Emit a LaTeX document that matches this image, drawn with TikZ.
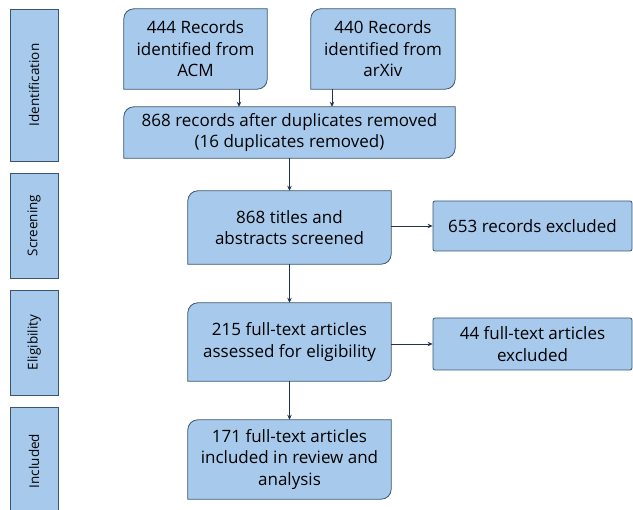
\documentclass[tikz,border=0pt]{standalone}
\usepackage{fontspec}
\setmainfont{Open Sans}
\usepackage{tikz}
\usetikzlibrary{arrows.meta, positioning, backgrounds}

\definecolor{boxblue}{HTML}{A7CAEC}
\definecolor{boxline}{HTML}{3A5573}
\definecolor{arrowcol}{HTML}{1F3350}

\begin{document}
\begin{tikzpicture}[
    x=1pt, y=-1pt,
    stage/.style={rectangle, draw=boxline, fill=boxblue, line width=0.8pt, rotate=90,
        minimum height=48pt, inner sep=0pt, font=\fontsize{13.5}{15}\selectfont},
    flowbox/.style={rectangle, inner sep=2pt, align=center,
        font=\fontsize{17}{21.5}\selectfont},
    sidebox/.style={rectangle, draw=boxline, fill=boxblue, line width=0.8pt,
        rounded corners=2pt, align=center, minimum width=199pt, minimum height=50pt,
        font=\fontsize{17}{21.5}\selectfont},
    arr/.style={draw=arrowcol, line width=0.8pt, -{Stealth[length=5pt, width=4.5pt]}}
]
    \useasboundingbox (0,0) rectangle (633,510);

    % phases on the left
    \node[stage, minimum width=152pt] (ident) at (34,85) {Identification};
    \node[stage, minimum width=105pt] (scr) at (34,225.5) {Screening};
    \node[stage, minimum width=105pt] (eli) at (34,342.5) {Eligibility};
    \node[stage, minimum width=108pt] (inc) at (34,461) {Included};

    % main flow
    \node[flowbox, minimum width=143pt, minimum height=80pt] (acm) at (195.5,49)
        {444 Records\\identified from\\ACM};
    \node[flowbox, minimum width=144pt, minimum height=80pt] (arxiv) at (383,49)
        {440 Records\\identified from\\arXiv};
    \node[flowbox, minimum width=331pt, minimum height=51pt] (dup) at (289.5,132.5)
        {868 records after duplicates removed\\(16 duplicates removed)};
    \node[flowbox, minimum width=203pt, minimum height=73pt] (screen) at (289.5,227.5)
        {868 titles and\\abstracts screened};
    \node[flowbox, minimum width=203pt, minimum height=78pt] (elig) at (289.5,342)
        {215 full-text articles\\assessed for eligibility};
    \node[flowbox, minimum width=203pt, minimum height=79pt] (incl) at (289.5,459.5)
        {171 full-text articles\\included in review and\\analysis};

    % exclusions
    \node[sidebox] (excl1) at (532.5,226) {653 records excluded};
    \node[sidebox, minimum height=52pt] (excl2) at (532.5,344) {44 full-text articles\\excluded};

    % box outlines, round top left and bottom right corners
    \begin{scope}[on background layer]
        \foreach \n in {acm, arxiv, dup, screen, elig, incl}
            \draw[draw=boxline, fill=boxblue, line width=0.8pt]
                (\n.south west) -- ([yshift=-10pt]\n.north west)
                arc[start angle=180, end angle=90, radius=10pt]
                -- (\n.north east) -- ([yshift=10pt]\n.south east)
                arc[start angle=0, end angle=-90, radius=10pt] -- cycle;
    \end{scope}

    \draw[arr] (acm.south -| 239,0) -- (dup.north -| 239,0);
    \draw[arr] (arxiv.south -| 332,0) -- (dup.north -| 332,0);
    \draw[arr] (dup.south) -- (screen.north);
    \draw[arr] (screen.south) -- (elig.north);
    \draw[arr] (elig.south) -- (incl.north);
    \draw[arr] (screen.east |- excl1.west) -- (excl1.west);
    \draw[arr] (elig.east |- excl2.west) -- (excl2.west);
\end{tikzpicture}
\end{document}
